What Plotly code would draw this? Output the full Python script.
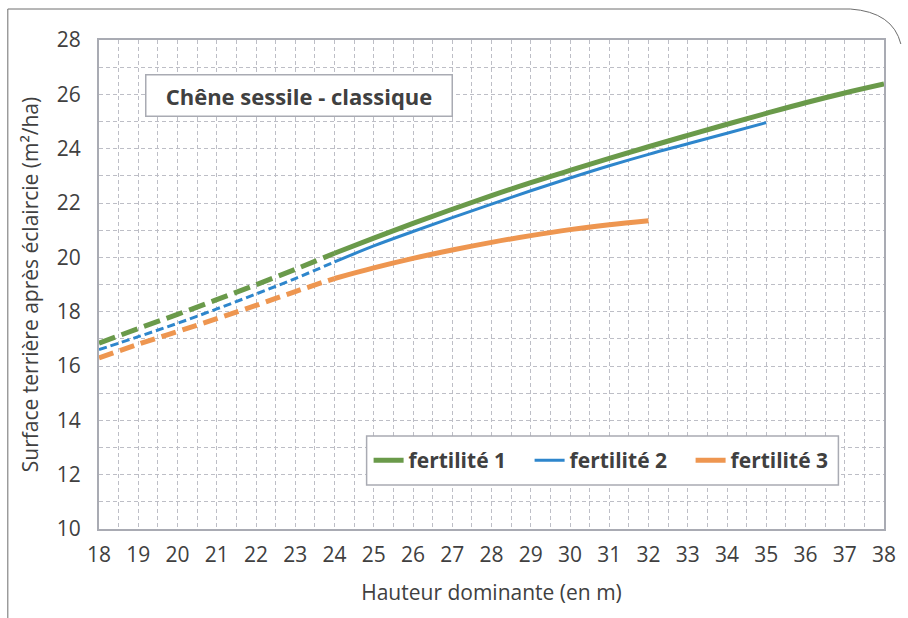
import plotly.graph_objects as go

# Chêne sessile - classique : surface terrière après éclaircie vs hauteur dominante

GREEN  = "#6A9A4A"
BLUE   = "#2E86CC"
ORANGE = "#EE9650"
TEXT   = "#404040"
FRAME  = "#A9ABB3"
GRID   = "#BDBEC6"
FONT   = "Open Sans, sans-serif"

# dashed (extrapolated) part, shared x
X_DASH = [18, 19, 20, 21, 22, 23, 24]
F1_DASH = [16.84, 17.38, 17.90, 18.44, 18.99, 19.56, 20.15]
F2_DASH = [16.60, 17.08, 17.57, 18.10, 18.65, 19.22, 19.83]
F3_DASH = [16.30, 16.80, 17.27, 17.74, 18.23, 18.74, 19.22]

# solid part
X_F1 = [24, 25, 26, 27, 28, 29, 30, 31, 32, 33, 34, 35, 36, 37, 38]
F1 = [20.15, 20.71, 21.25, 21.77, 22.27, 22.75, 23.20, 23.64, 24.07,
      24.49, 24.90, 25.30, 25.69, 26.05, 26.38]
X_F2 = [24, 25, 26, 27, 28, 29, 30, 31, 32, 33, 34, 35]
F2 = [19.83, 20.42, 20.95, 21.46, 21.96, 22.45, 22.92, 23.37, 23.79,
      24.18, 24.57, 24.96]
X_F3 = [24, 25, 26, 27, 28, 29, 30, 31, 32]
F3 = [19.22, 19.61, 19.96, 20.27, 20.55, 20.80, 21.02, 21.20, 21.35]

NAMES = ["fertilité 1", "fertilité 2", "fertilité 3"]
X_TICKS = list(range(18, 39))
Y_TICKS = list(range(10, 29, 2))

# plot area in pixels (908 x 618 page)
L, R, T, B = 99, 891, 40, 529


def px(x, y):
    # pixel -> paper coordinates
    return (x - L) / (R - L), (B - y) / (B - T)


fig = go.Figure()

series = [
    (X_DASH, F1_DASH, X_F1, F1, GREEN, 5, "17px,7px", NAMES[0]),
    (X_DASH, F2_DASH, X_F2, F2, BLUE, 3, "8px,4px", NAMES[1]),
    (X_DASH, F3_DASH, X_F3, F3, ORANGE, 5, "15px,7px", NAMES[2]),
]
for xd, yd, xs, ys, col, w, dash, name in series:
    fig.add_trace(go.Scatter(x=xd, y=yd, mode="lines", showlegend=False,
        line=dict(color=col, width=w, dash=dash, shape="spline"), hoverinfo="skip"))
    fig.add_trace(go.Scatter(x=xs, y=ys, mode="lines", name=name,
        line=dict(color=col, width=w, shape="spline")))

axis_common = dict(
    showline=True, mirror=True, linecolor=FRAME, linewidth=2,
    showgrid=True, gridcolor=GRID, gridwidth=1, griddash="4px,3px",
    zeroline=False, ticks="", tickfont=dict(size=21, color=TEXT, family=FONT),
)

fig.update_xaxes(
    range=[18, 38], tickvals=X_TICKS, ticklabelstandoff=6,
    minor=dict(dtick=0.5, showgrid=True, gridcolor=GRID, griddash="4px,3px"),
    title=dict(text="Hauteur dominante (en m)", font=dict(size=21, color=TEXT, family=FONT),
               standoff=18),
    **axis_common,
)
fig.update_yaxes(
    range=[10, 28], tickvals=Y_TICKS, ticklabelstandoff=12,
    minor=dict(dtick=1, showgrid=True, gridcolor=GRID, griddash="4px,3px"),
    title=dict(text="Surface terrière après éclaircie (m²/ha)",
               font=dict(size=21, color=TEXT, family=FONT), standoff=12),
    **axis_common,
)

# title box
tx, ty = px(300.5, 95.5)
fig.add_annotation(
    x=tx, y=ty, xref="paper", yref="paper", xanchor="center", yanchor="middle",
    showarrow=False, text="<b>Chêne sessile - classique</b>",
    font=dict(size=22, color=TEXT, family=FONT),
    width=305, height=40, bgcolor="white",
    bordercolor=FRAME, borderwidth=1.5, borderpad=0,
)

# legend box (drawn as a shape so it can be taller than the legend itself)
bx0, by0 = px(369, 485)
bx1, by1 = px(845, 436)
fig.add_shape(type="rect", xref="paper", yref="paper", x0=bx0, y0=by0, x1=bx1, y1=by1,
              fillcolor="white", line=dict(color=FRAME, width=1.5), layer="above")

# outer rounded frame
x0, y0 = px(7, 618)
x1, y1 = px(7, 9)
x2, y2 = px(857, 9)
xc, yc = px(900, 12)
x3, y3 = px(908, 44)
fig.add_shape(
    type="path", xref="paper", yref="paper",
    path=f"M {x0},{y0} L {x1},{y1} L {x2},{y2} Q {xc},{yc} {x3},{y3}",
    line=dict(color="#6E6E6E", width=1),
)

lx, ly = px(371, 460.5)
fig.update_layout(
    width=908, height=618,
    margin=dict(l=L, r=908 - R, t=T, b=618 - B),
    plot_bgcolor="white", paper_bgcolor="white",
    font=dict(family=FONT, color=TEXT),
    showlegend=True,
    legend=dict(
        orientation="h", x=lx, y=ly, xanchor="left", yanchor="middle",
        bgcolor="rgba(0,0,0,0)", borderwidth=0,
        font=dict(size=21, color=TEXT, family=FONT, weight="bold"),
        itemwidth=30, entrywidth=116, entrywidthmode="pixels",
    ),
)

# browser default body margin would shift the figure by 8px
fig.write_html("out.html", config={"displayModeBar": False},
               post_script="document.body.style.margin='0';")
